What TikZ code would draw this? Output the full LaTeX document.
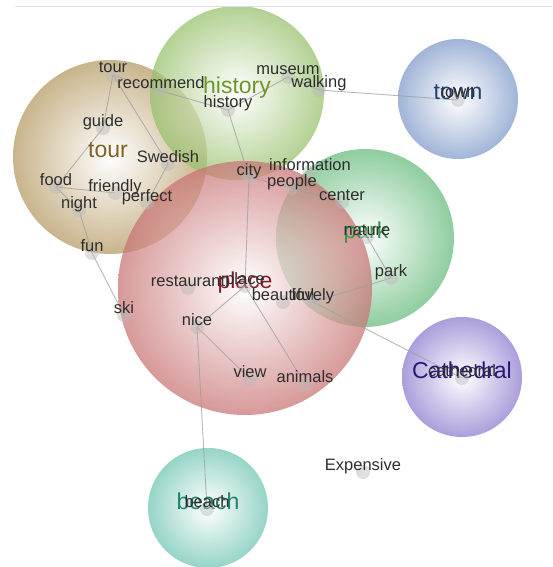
\documentclass[tikz,border=0pt]{standalone}
\usepackage{fontspec}
\setmainfont{Liberation Sans}
\usepackage{tikz}
\pgfdeclarelayer{clusters}
\pgfdeclarelayer{links}
\pgfsetlayers{clusters,links,main}
\tikzset{
  cluster/.style 2 args={
    circle,
    shading=radial,
    inner color=white,
    outer color=#1,
    fill opacity=0.72,
    inner sep=0pt,
    minimum size=#2},
  word/.style={
    circle,
    fill=gray!55,
    fill opacity=0.45,
    inner sep=0pt,
    minimum size=14pt},
  wordtext/.style={
    font=\fontsize{16.5}{18}\selectfont,
    text=black!82,
    text opacity=1,
    text height=12pt,
    text depth=4pt,
    inner sep=0pt,
    yshift=6pt},
  bigtext/.style={
    font=\fontsize{23}{26}\selectfont,
    anchor=base,
    inner sep=0pt},
  link/.style={
    draw=gray!75,
    line width=0.9pt,
    opacity=0.75}
}

\begin{document}
\begin{tikzpicture}[x=1pt, y=-1pt]
  \definecolor{tourbg}{RGB}{180, 152, 96}
  \definecolor{historybg}{RGB}{150, 192, 106}
  \definecolor{townbg}{RGB}{124, 152, 200}
  \definecolor{parkbg}{RGB}{100, 186, 122}
  \definecolor{placebg}{RGB}{200, 114, 114}
  \definecolor{cathbg}{RGB}{140, 120, 206}
  \definecolor{beachbg}{RGB}{110, 196, 178}
  \definecolor{tourfg}{RGB}{128, 98, 36}
  \definecolor{historyfg}{RGB}{110, 150, 44}
  \definecolor{townfg}{RGB}{36, 64, 110}
  \definecolor{parkfg}{RGB}{50, 150, 70}
  \definecolor{placefg}{RGB}{140, 24, 40}
  \definecolor{cathfg}{RGB}{40, 24, 120}
  \definecolor{beachfg}{RGB}{36, 130, 112}

  \useasboundingbox (0,0) rectangle (552,567);
  \draw[draw=gray!25, line width=1pt] (15,6.5) -- (552,6.5);

  % Clusters
  \begin{pgfonlayer}{clusters}
    \node (tourC) [cluster={tourbg}{194pt}] at (110,157) {};
    \node (historyC) [cluster={historybg}{174pt}] at (237,93) {};
    \node (townC) [cluster={townbg}{120pt}] at (458,99) {};
    \node (parkC) [cluster={parkbg}{178pt}] at (365,238) {};
    \node (placeC) [cluster={placebg}{254pt}] at (245,288) {};
    \node (cathC) [cluster={cathbg}{120pt}] at (462,377) {};
    \node (beachC) [cluster={beachbg}{120pt}] at (208,508) {};
  \end{pgfonlayer}

  \node (tourL) [bigtext, text=tourfg] at (108,157) {tour};
  \node (historyL) [bigtext, text=historyfg] at (237,94) {history};
  \node (townL) [bigtext, text=townfg] at (458,100) {town};
  \node (parkL) [bigtext, text=parkfg] at (366,238) {park};
  \node (placeL) [bigtext, text=placefg] at (245,288) {place};
  \node (cathL) [bigtext, text=cathfg] at (462,378) {Cathedral};
  \node (beachL) [bigtext, text=beachfg] at (208,509) {beach};

  % Words
  \node (tourw) [word, label={[wordtext]center:tour}] at (113,75) {};
  \node (recommend) [word, label={[wordtext]center:recommend}] at (161,91) {};
  \node (historyw) [word, label={[wordtext]center:history}] at (228,110) {};
  \node (museum) [word, label={[wordtext]center:museum}] at (288,77) {};
  \node (walking) [word, label={[wordtext]center:walking}] at (319,90) {};
  \node (townw) [word, label={[wordtext]center:town}] at (458,100) {};
  \node (guide) [word, label={[wordtext]center:guide}] at (103,128) {};
  \node (swedish) [word, label={[wordtext]center:Swedish}] at (168,164) {};
  \node (food) [word, label={[wordtext]center:food}] at (56,187) {};
  \node (friendly) [word, label={[wordtext]center:friendly}] at (115,193) {};
  \node (night) [word, label={[wordtext]center:night}] at (79,210) {};
  \node (perfect) [word, label={[wordtext]center:perfect}] at (147,203) {};
  \node (city) [word, label={[wordtext]center:city}] at (249,177) {};
  \node (information) [word, label={[wordtext]center:information}] at (310,172) {};
  \node (people) [word, label={[wordtext]center:people}] at (292,188) {};
  \node (center) [word, label={[wordtext]center:center}] at (342,202) {};
  \node (nature) [word, label={[wordtext]center:nature}] at (367,237) {};
  \node (parkw) [word, label={[wordtext]center:park}] at (391,278) {};
  \node (fun) [word, label={[wordtext]center:fun}] at (92,253) {};
  \node (ski) [word, label={[wordtext]center:ski}] at (124,315) {};
  \node (restaurant) [word, label={[wordtext]center:restaurant}] at (188,288) {};
  \node (placew) [word, label={[wordtext]center:place}] at (245,286) {};
  \node (beautiful) [word, label={[wordtext]center:beautiful}] at (283,302) {};
  \node (lovely) [word, label={[wordtext]center:lovely}] at (313,302) {};
  \node (nice) [word, label={[wordtext]center:nice}] at (197,327) {};
  \node (view) [word, label={[wordtext]center:view}] at (250,379) {};
  \node (animals) [word, label={[wordtext]center:animals}] at (305,384) {};
  \node (cathw) [word, label={[wordtext]center:cathedral}] at (462,378) {};
  \node (expensive) [word, label={[wordtext]center:Expensive}] at (363,472) {};
  \node (beachw) [word, label={[wordtext]center:beach}] at (207,509) {};

  % Links
  \begin{pgfonlayer}{links}
    \draw[link] (tourw.center) -- (recommend.center) -- (historyw.center);
    \draw[link] (tourw.center) -- (guide.center) -- (food.center) -- (friendly.center);
    \draw[link] (tourw.center) -- (swedish.center) -- (perfect.center);
    \draw[link] (food.center) -- (night.center) -- (fun.center) -- (ski.center);
    \draw[link] (historyw.center) -- (museum.center) -- (walking.center) -- (townw.center);
    \draw[link] (historyw.center) -- (city.center) -- (people.center) -- (center.center);
    \draw[link] (city.center) -- (placew.center) -- (nice.center) -- (view.center);
    \draw[link] (nice.center) -- (beachw.center);
    \draw[link] (placew.center) -- (animals.center);
    \draw[link] (nature.center) -- (parkw.center) -- (lovely.center) -- (cathw.center);
  \end{pgfonlayer}
\end{tikzpicture}
\end{document}
